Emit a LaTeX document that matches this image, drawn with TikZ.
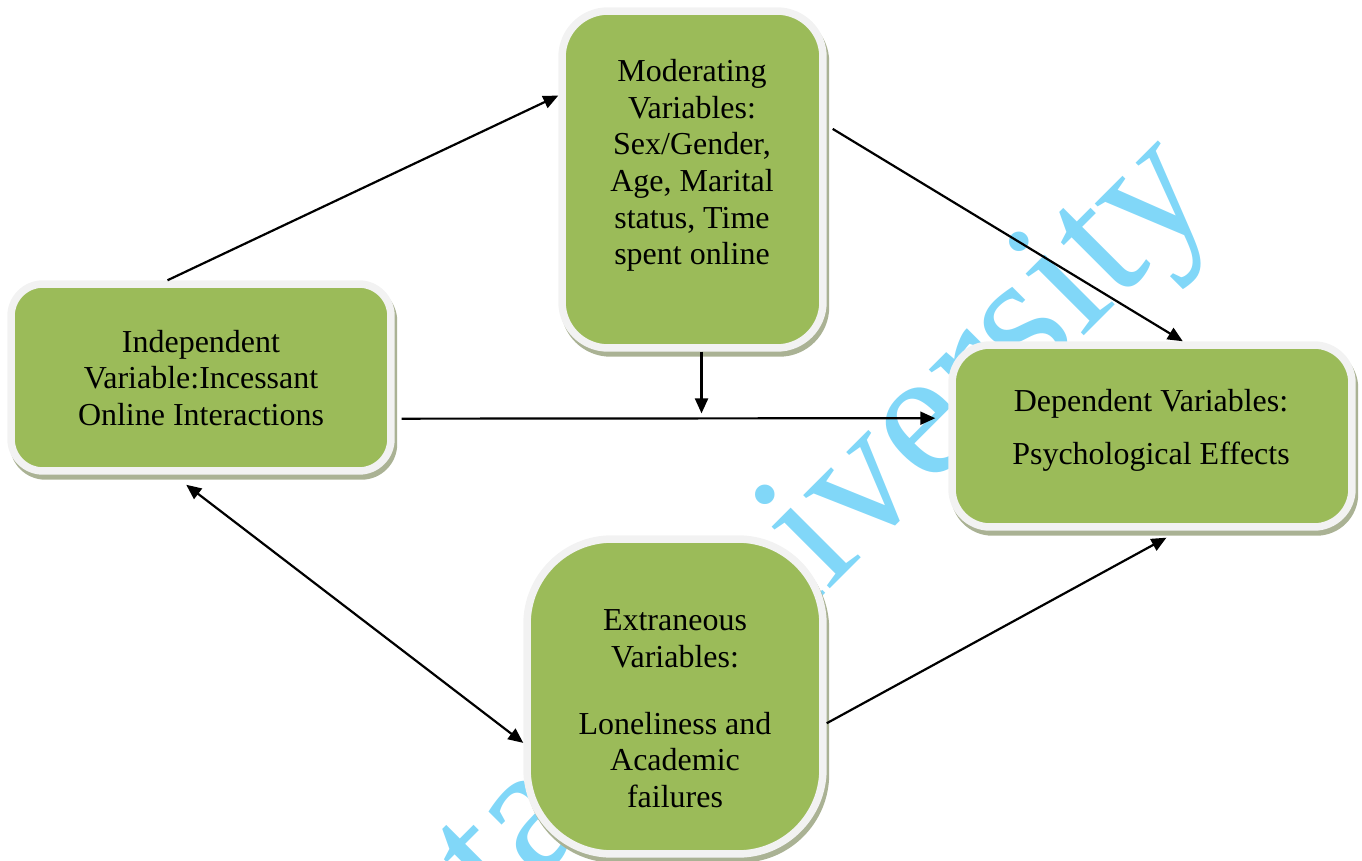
\documentclass[tikz,border=0pt]{standalone}
\usepackage{fontspec}
\setmainfont{Liberation Serif}
\usetikzlibrary{arrows.meta,shadows}
\definecolor{boxgreen}{RGB}{155,187,89}
\definecolor{rimgray}{RGB}{242,242,242}
\definecolor{shadegreen}{RGB}{170,178,148}
\definecolor{markblue}{RGB}{129,215,248}
\begin{document}
\begin{tikzpicture}[x=0.02cm, y=-0.02cm, >={Triangle[length=0.3cm,width=0.26cm]},
  varbox/.style={rectangle, fill=boxgreen, draw=rimgray, line width=0.15cm,
    general shadow={fill=shadegreen, draw=shadegreen, line width=0.15cm, shadow xshift=0.05cm, shadow yshift=-0.1cm}},
  vartext/.style={align=center, font=\fontsize{18.2}{20.9}\selectfont},
  arr/.style={->, line width=1.25pt}]
\useasboundingbox (0,0) rectangle (1362,861);
% watermark behind the boxes
\node[text=markblue, font=\fontsize{105}{105}\selectfont, rotate=45, anchor=base west, inner sep=0pt] (mark) at (500,919) {ta\hspace{33pt} University};
% boxes
\node[varbox, minimum width=7.6cm, minimum height=3.74cm, rounded corners=0.64cm] (indep) at (201,377.5) {};
\node[varbox, minimum width=5.22cm, minimum height=6.74cm, rounded corners=0.92cm] (mod) at (692.5,179.5) {};
\node[varbox, minimum width=8cm, minimum height=3.64cm, rounded corners=0.76cm] (dep) at (1152,436) {};
\node[varbox, minimum width=5.92cm, minimum height=6.3cm, rounded corners=1.7cm] (extr) at (675,696.5) {};
\node[vartext] (indeptext) at (201,378) {Independent\\Variable:Incessant\\Online Interactions};
\node[vartext] (modtext) at (692,165.5) {Moderating\\Variables:\\Sex/Gender,\\Age, Marital\\status, Time\\spent online};
\node[vartext, font=\fontsize{18.2}{30.1}\selectfont] (deptext) at (1151,430) {Dependent Variables:\\Psychological Effects};
\node[vartext] (extrtext) at (675,709) {Extraneous\\Variables:\\[17pt]Loneliness and\\Academic\\failures};
% arrows
\draw[arr] (indep.109) -- (mod.148);
\draw[arr, shorten <=0.14cm] (mod.22) -- (dep.72);
\draw[arr, shorten <=0.14cm, shorten >=0.26cm] (indep.348) -- coordinate[pos=0.553] (join) (dep.175);
\draw[arr, shorten >=0.1cm] (mod.273) -- (mod.273 |- join);
\draw[arr, <->, shorten <=0.33cm] (indep.254) -- (extr.197);
\draw[arr, shorten >=0.29cm] (extr.350) -- (dep.286);
\end{tikzpicture}
\end{document}
